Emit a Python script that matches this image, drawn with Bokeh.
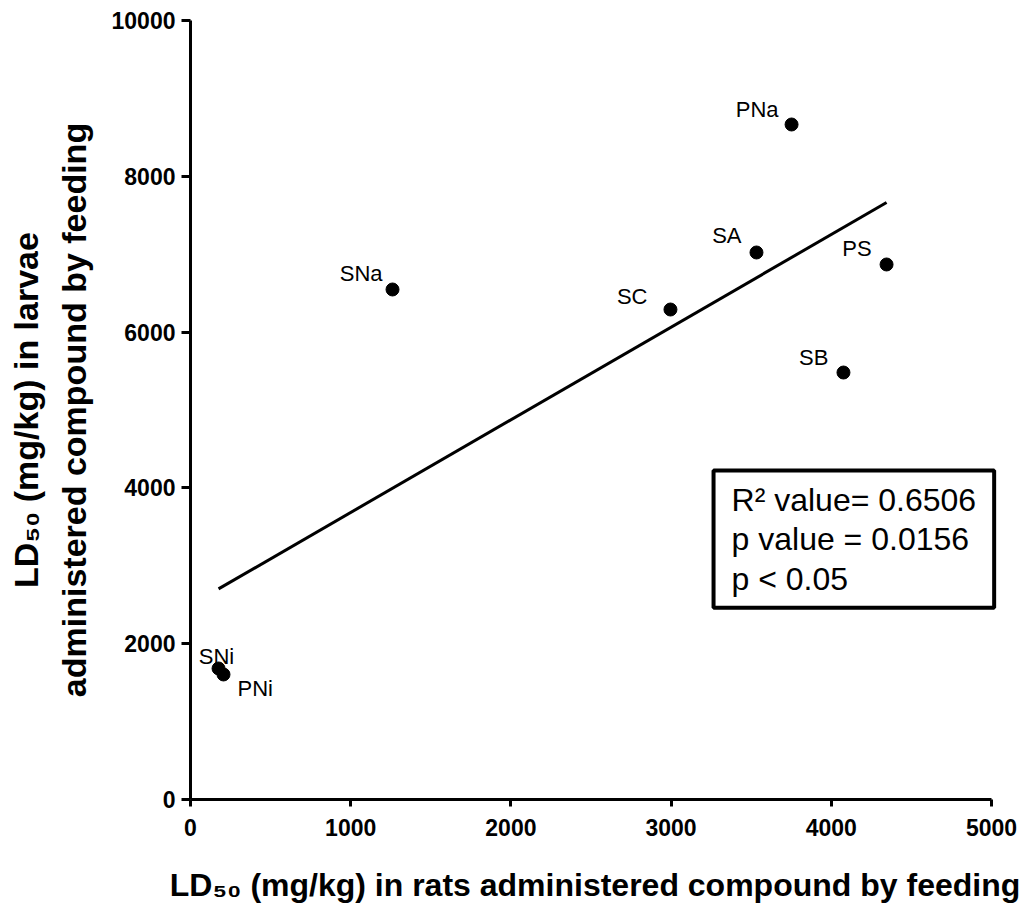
import numpy as np
from bokeh.plotting import figure
from bokeh.models import ColumnDataSource, Range1d, Label
from bokeh.core.properties import value
from bokeh.embed import file_html
from bokeh.resources import INLINE

# ---------------- data ----------------
compounds = ["SNi", "PNi", "SNa", "SC", "SA", "PNa", "SB", "PS"]
rats_ld50 = [175, 206, 1261, 2996, 3533, 3752, 4076, 4345]
larvae_ld50 = [1682, 1605, 6547, 6290, 7022, 8665, 5481, 6868]

x_ticks = [0, 1000, 2000, 3000, 4000, 5000]
y_ticks = [0, 2000, 4000, 6000, 8000, 10000]

stats_text = ["R\u00b2 value= 0.6506", "p value = 0.0156", "p < 0.05"]

x_title = "LD\u2085\u2080 (mg/kg) in rats administered compound by feeding"
y_title = "LD\u2085\u2080 (mg/kg) in larvae\nadministered compound by feeding"

# ---------------- label placement (style only) ----------------
label_align = {"SNi": "center", "PNi": "left", "SNa": "right", "SC": "right",
               "SA": "right", "PNa": "right", "SB": "right", "PS": "right"}
label_dx = {"SNi": -2, "PNi": 14, "SNa": -10, "SC": -23, "SA": -15,
            "PNa": -13, "SB": -15, "PS": -15}
label_dy = {"SNi": -12, "PNi": 14, "SNa": -16, "SC": -13, "SA": -17,
            "PNa": -15, "SB": -15, "PS": -16}

# stats box anchor (top-left corner, data units)
box_x, box_y = 3265, 4223

FONT = "Liberation Sans"

src = ColumnDataSource(dict(
    x=rats_ld50, y=larvae_ld50, name=compounds,
    align=[label_align[c] for c in compounds],
    dx=[label_dx[c] for c in compounds],
    dy=[label_dy[c] for c in compounds],
))

p = figure(width=1027, height=907,
           x_range=Range1d(0, 5050), y_range=Range1d(0, 10000),
           output_backend="svg", toolbar_location=None,
           min_border_left=190, min_border_right=28,
           min_border_top=20, min_border_bottom=108)

p.outline_line_color = None
p.grid.visible = False
p.background_fill_color = "white"
p.border_fill_color = "white"

# regression line through the data
slope, intercept = np.polyfit(np.array(rats_ld50, float), np.array(larvae_ld50, float), 1)
xs = np.array([min(rats_ld50), max(rats_ld50)], float)
p.line(xs, slope * xs + intercept, line_color="black", line_width=3)

p.scatter("x", "y", source=src, size=13, color="black")
p.text("x", "y", text="name", source=src, x_offset="dx", y_offset="dy",
       text_align="align", text_baseline="alphabetic",
       text_font=value(FONT), text_font_size="22px", text_color="black")

# axes
for ax in (p.xaxis, p.yaxis):
    ax.axis_line_width = 3
    ax.axis_line_color = "black"
    ax.major_tick_line_width = 3
    ax.major_tick_line_color = "black"
    ax.major_tick_in = 0
    ax.minor_tick_line_color = None
    ax.major_label_text_font = FONT
    ax.major_label_text_font_style = "bold"
    ax.major_label_text_font_size = "23px"
    ax.major_label_text_color = "black"
    ax.axis_label_text_font = FONT
    ax.axis_label_text_font_style = "bold"
    ax.axis_label_text_color = "black"

p.xaxis.bounds = (0, 5000)
p.xaxis.ticker = x_ticks
p.yaxis.ticker = y_ticks
p.xaxis.major_tick_out = 7
p.yaxis.major_tick_out = 9
p.xaxis.major_label_standoff = 12
p.yaxis.major_label_standoff = 6
p.xaxis.axis_label = x_title
p.yaxis.axis_label = y_title
p.xaxis.axis_label_text_font_size = "32px"
p.yaxis.axis_label_text_font_size = "34px"
p.xaxis.axis_label_standoff = 28
p.yaxis.axis_label_standoff = 16
p.yaxis.axis_label_text_line_height = 1.25

# statistics box
p.add_layout(Label(x=box_x, y=box_y, text="\n".join(stats_text),
                   text_font=FONT, text_font_size="32px", text_color="black",
                   text_align="left", text_baseline="top",
                   text_line_height=1.1,
                   border_line_color="black", border_line_width=4,
                   background_fill_color="white", padding=dict(x=18, y=11)))

open("out.html", "w").write(file_html(p, INLINE))
